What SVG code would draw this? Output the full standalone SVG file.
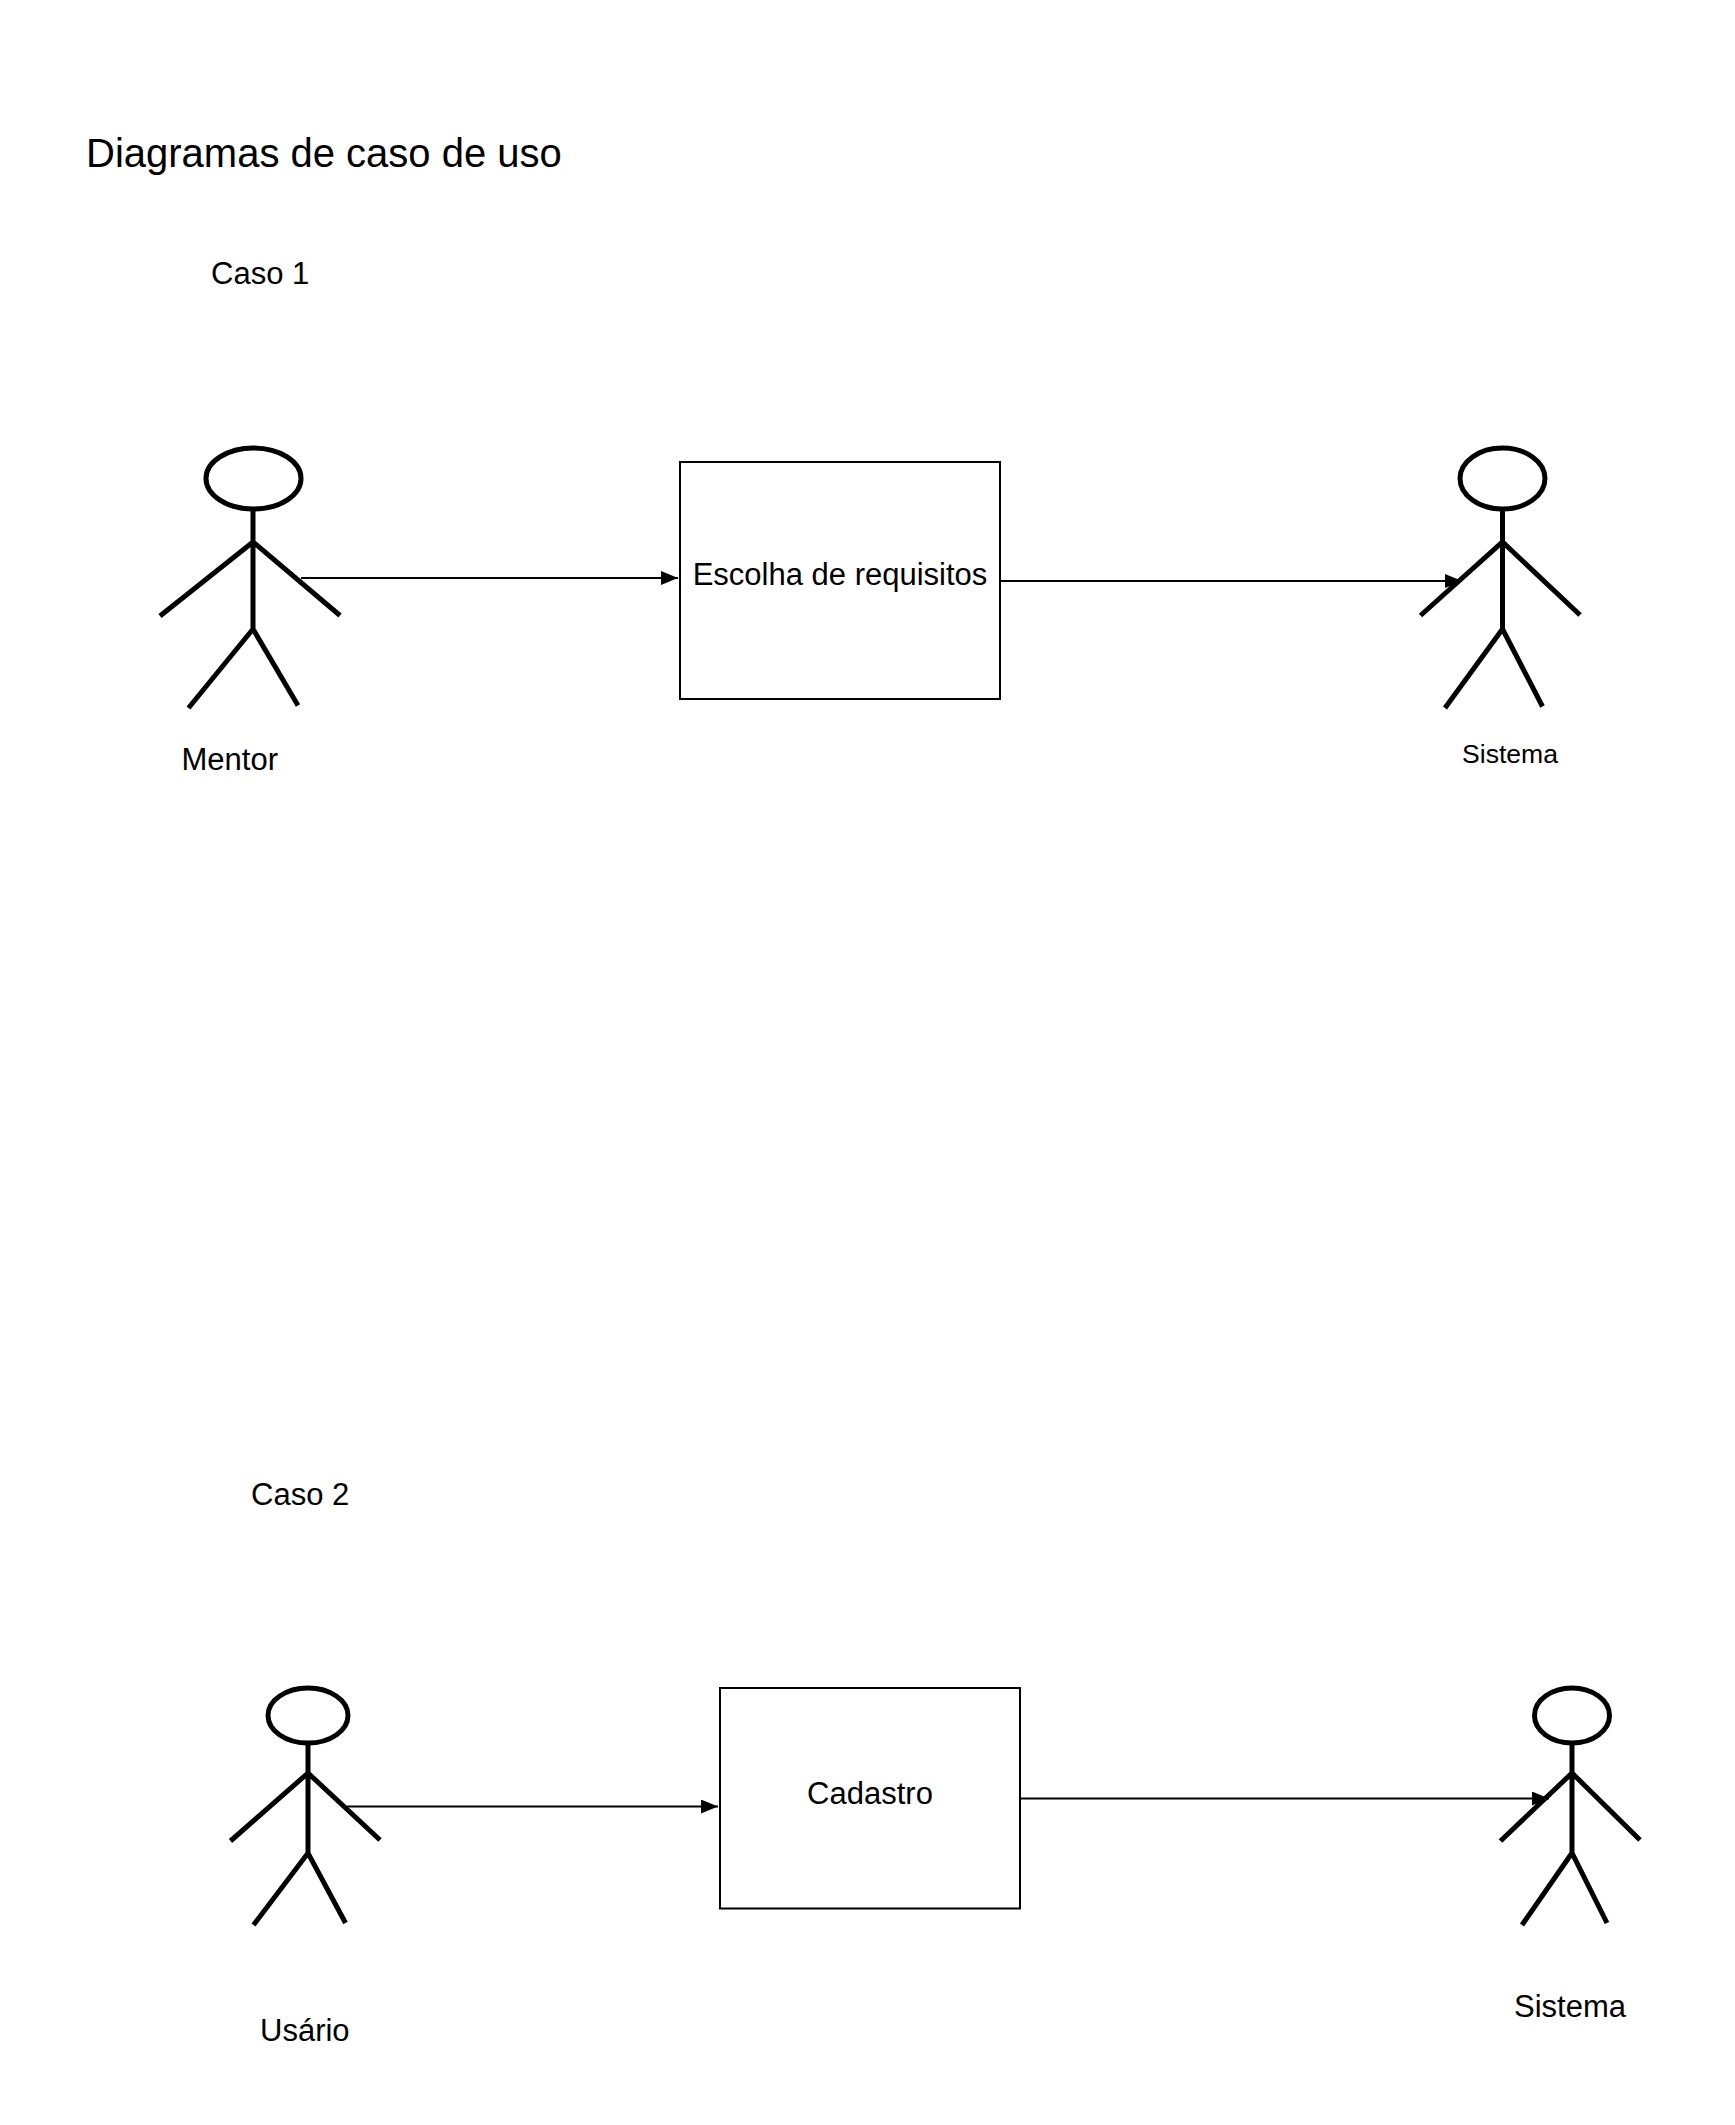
<svg xmlns="http://www.w3.org/2000/svg" width="1735" height="2125" viewBox="0 0 1735 2125">
<style>
text{font-family:"Liberation Sans",Arial,sans-serif;font-size:31px;fill:#000}
.actor *{fill:none;stroke:#000;stroke-width:5}
.box{fill:#fff;stroke:#000;stroke-width:2}
.conn{fill:none;stroke:#000;stroke-width:2;marker-end:url(#arrow)}
</style>
<defs>
<marker id="arrow" markerUnits="userSpaceOnUse" markerWidth="20" markerHeight="16" refX="17" refY="7" orient="auto"><path d="M0 0L17 7L0 14Z" fill="#000"/></marker>
</defs>
<rect width="1735" height="2125" fill="#fff"/>
<text id="title" x="86" y="167" style="font-size:40px">Diagramas de caso de uso</text>
<text id="caso1" x="211" y="283.5">Caso 1</text>
<text id="caso2" x="251" y="1504.5">Caso 2</text>
<g id="mentor" class="actor">
<ellipse cx="253.5" cy="478.5" rx="47.5" ry="30.5"/>
<path d="M253 509V629M160 616L253 542L340 615.5M188.5 708L253 629L298 705.5"/>
</g>
<text id="mentor-label" x="181.5" y="769.5">Mentor</text>
<g id="escolha"><rect class="box" x="680" y="462" width="320" height="237"/>
<text x="840" y="585" text-anchor="middle">Escolha de requisitos</text></g>
<g id="sistema1" class="actor">
<ellipse cx="1502.5" cy="478.5" rx="42.5" ry="30.5"/>
<path d="M1502.5 509V629M1420.5 615.5L1502.5 542L1580 615M1445 708L1502.5 629L1542.5 706.5"/>
</g>
<text id="sistema1-label" x="1462" y="763" style="font-size:26.6px">Sistema</text>
<g id="usuario" class="actor">
<ellipse cx="308" cy="1715.5" rx="40" ry="27.5"/>
<path d="M308 1743V1853M230.5 1841L308 1773L380 1840M253.5 1925L308 1853L345.5 1923"/>
</g>
<text id="usuario-label" x="260" y="2041">Usário</text>
<g id="cadastro"><rect class="box" x="720" y="1688" width="300" height="220.5"/>
<text x="870" y="1804" text-anchor="middle">Cadastro</text></g>
<g id="sistema2" class="actor">
<ellipse cx="1572" cy="1715.5" rx="37.5" ry="27.5"/>
<path d="M1572 1743V1853M1500.5 1841L1572 1773L1640 1840M1522 1925L1572 1853L1607 1923"/>
</g>
<text id="sistema2-label" x="1514" y="2016.5">Sistema</text>
<g id="connectors">
<path class="conn" d="M301 578H678"/>
<path class="conn" d="M1000 581H1462"/>
<path class="conn" d="M347 1806.5H718"/>
<path class="conn" d="M1020 1798.5H1549"/>
</g>
</svg>
